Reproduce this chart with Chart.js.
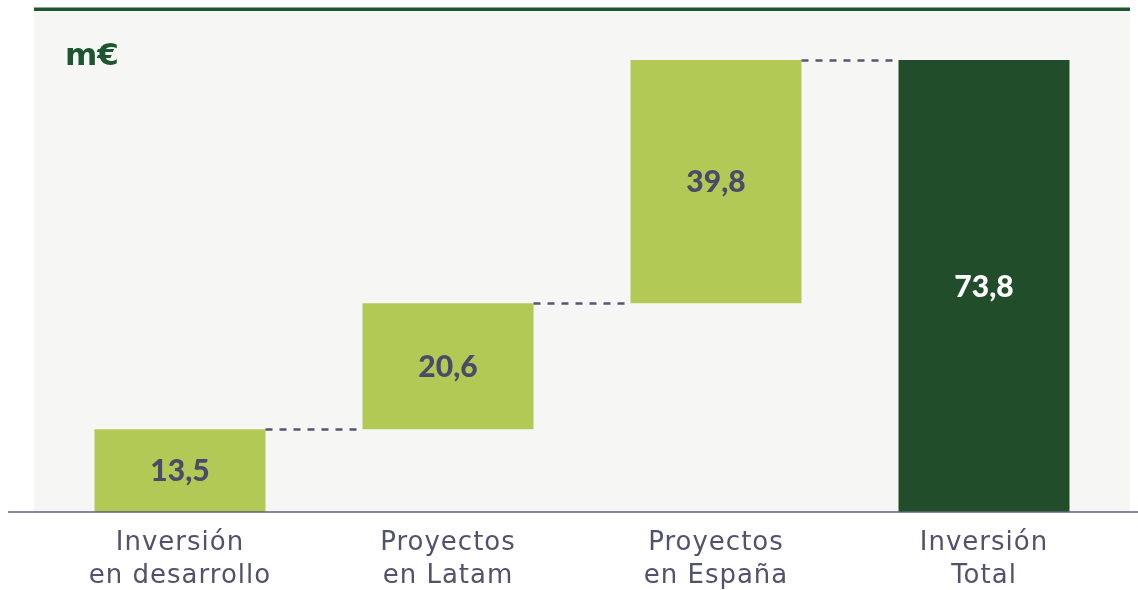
<!DOCTYPE html>
<html>
<head>
<meta charset="utf-8">
<script src="https://cdn.jsdelivr.net/npm/chart.js@4"></script>
<style>
  html, body { margin: 0; padding: 0; background: #ffffff; }
  #wrap { width: 1138px; height: 590px; position: relative; }
</style>
</head>
<body>
<div id="wrap"><canvas id="c" width="1138" height="590"></canvas></div>
<script>
const categories = [
  ["Inversión", "en desarrollo"],
  ["Proyectos", "en Latam"],
  ["Proyectos", "en España"],
  ["Inversión", "Total"]
];
const values = [13.5, 20.6, 39.8, 73.8];
const isTotal = [false, false, false, true];
const unitLabel = "m€";

// floating ranges for the waterfall
const ranges = [];
let running = 0;
values.forEach((v, i) => {
  if (isTotal[i]) {
    ranges.push([0, v]);
    running = v;
  } else {
    const end = (i === values.length - 2 && isTotal[i + 1]) ? values[i + 1] : running + v;
    ranges.push([running, end]);
    running = end;
  }
});

const barColors = isTotal.map(t => t ? '#214d2a' : '#b2ca55');
const labelColors = isTotal.map(t => t ? '#ffffff' : '#4b4b69');

const decorPlugin = {
  id: 'decor',
  beforeDraw(chart) {
    const { ctx, chartArea } = chart;
    ctx.save();
    ctx.fillStyle = '#f6f6f4';
    ctx.fillRect(chartArea.left - 12, chartArea.top, chartArea.right - chartArea.left + 24, chartArea.bottom - chartArea.top);
    ctx.fillStyle = '#1e5631';
    ctx.fillRect(chartArea.left - 12, chartArea.top - 3.5, chartArea.right - chartArea.left + 24, 3.5);
    ctx.restore();
    // wider tracking for the category labels
    ctx.letterSpacing = '1px';
  },
  afterDatasetsDraw(chart) {
    const { ctx, chartArea } = chart;
    ctx.letterSpacing = '0px';
    const meta = chart.getDatasetMeta(0);
    ctx.save();
    // dashed connectors
    ctx.strokeStyle = '#565674';
    ctx.lineWidth = 2.5;
    ctx.setLineDash([7, 7]);
    for (let i = 0; i < meta.data.length - 1; i++) {
      const a = meta.data[i], b = meta.data[i + 1];
      const y = Math.round(Math.min(a.y, a.base)) + 0.5;
      ctx.beginPath();
      ctx.moveTo(a.x + a.width / 2, y);
      ctx.lineTo(b.x - b.width / 2, y);
      ctx.stroke();
    }
    ctx.setLineDash([]);
    // value labels
    ctx.font = '900 30px Lato';
    ctx.textAlign = 'center';
    ctx.textBaseline = 'middle';
    meta.data.forEach((el, i) => {
      ctx.fillStyle = labelColors[i];
      const cy = (el.y + el.base) / 2;
      ctx.fillText(values[i].toFixed(1).replace('.', ','), el.x, cy + 1);
    });
    // axis line
    ctx.strokeStyle = '#5f5f7c';
    ctx.lineWidth = 1.5;
    ctx.beginPath();
    ctx.moveTo(8, chartArea.bottom);
    ctx.lineTo(1138, chartArea.bottom);
    ctx.stroke();
    // unit label
    ctx.fillStyle = '#1e5631';
    ctx.font = 'bold 31px "DejaVu Sans"';
    ctx.textAlign = 'left';
    ctx.textBaseline = 'alphabetic';
    ctx.fillText(unitLabel, 65, 65);
    ctx.restore();
  }
};

new Chart(document.getElementById('c'), {
  type: 'bar',
  data: {
    labels: categories,
    datasets: [{
      data: ranges,
      backgroundColor: barColors,
      borderWidth: 0,
      borderSkipped: false,
      barPercentage: 0.638,
      categoryPercentage: 1
    }]
  },
  options: {
    responsive: false,
    animation: false,
    devicePixelRatio: 1,
    layout: { padding: { left: 46, right: 20, top: 11, bottom: 0 } },
    plugins: {
      legend: { display: false },
      tooltip: { enabled: false },
      title: { display: false }
    },
    scales: {
      x: {
        grid: { display: false, drawTicks: false },
        border: { display: false },
        ticks: {
          color: '#52526e',
          padding: 14,
          font: { family: '"DejaVu Sans"', size: 26, lineHeight: 1.3 },
          maxRotation: 0,
          autoSkip: false
        },
        afterFit(scale) { scale.height = 78; }
      },
      y: {
        display: false,
        min: 0,
        max: 81.8
      }
    }
  },
  plugins: [decorPlugin]
});
</script>
</body>
</html>
